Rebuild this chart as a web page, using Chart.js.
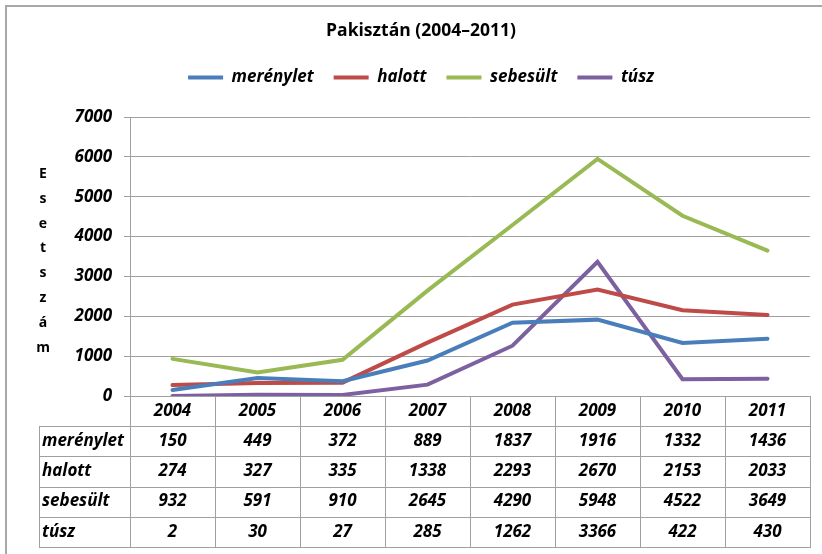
<!DOCTYPE html>
<html><head><meta charset="utf-8">
<script src="https://cdn.jsdelivr.net/npm/chart.js@4.4.1/dist/chart.umd.min.js"></script>
<style>html,body{margin:0;padding:0;background:#fff;} #wrap{width:822px;height:554px;position:relative;}</style>
</head><body><div id="wrap"><canvas id="c"></canvas></div>
<script>
const categories = ['2004','2005','2006','2007','2008','2009','2010','2011'];
const merenylet = [150,449,372,889,1837,1916,1332,1436];
const halott = [274,327,335,1338,2293,2670,2153,2033];
const sebesult = [932,591,910,2645,4290,5948,4522,3649];
const tusz = [2,30,27,285,1262,3366,422,430];
const seriesNames = ['merénylet','halott','sebesült','túsz'];
const seriesColors = ['#4A7EBB','#BE4B48','#98B954','#7D60A0'];
const yTickMin = 0, yTickMax = 7000, yTickStep = 1000;
const chartTitle = 'Pakisztán (2004–2011)';
const yAxisTitle = 'Esetszám';

const FAMILY = "'Open Sans', 'Liberation Sans', sans-serif";
const GRID = '#A0A0A0';
const LEGEND_H = 68;
const ROW_H = 30.25;
const TABLE_LEFT = 39;
const FS = 17;

Chart.defaults.font.family = FAMILY;
Chart.defaults.color = '#000';

const seriesData = [merenylet, halott, sebesult, tusz];

const tablePlugin = {
  id: 'tableAndFrame',
  beforeLayout(chart) {
    if (chart.legend && !chart.legend._patched) {
      const f = chart.legend.fit;
      chart.legend.fit = function () { f.call(this); this.height = LEGEND_H; };
      chart.legend._patched = true;
    }
  },
  beforeDraw(chart) {
    const ctx = chart.ctx;
    ctx.save();
    ctx.strokeStyle = '#A8A8A8';
    ctx.lineWidth = 2;
    ctx.strokeRect(6, 6, chart.width + 20, chart.height + 20);
    ctx.restore();
  },
  afterDraw(chart) {
    const ctx = chart.ctx;
    const x = chart.scales.x;
    const area = chart.chartArea;
    const half = (area.right - area.left) / categories.length / 2;
    const top = area.bottom;
    const y0 = x.bottom;
    const yEnd = y0 + ROW_H * seriesNames.length;
    ctx.save();
    ctx.strokeStyle = GRID;
    ctx.lineWidth = 1;
    ctx.beginPath();
    for (let i = 0; i <= categories.length; i++) {
      const px = Math.round(i < categories.length ? x.getPixelForValue(i) - half : x.getPixelForValue(i - 1) + half) + 0.5;
      ctx.moveTo(px, top);
      ctx.lineTo(px, Math.round(yEnd) + 0.5);
    }
    ctx.moveTo(TABLE_LEFT + 0.5, Math.round(y0) + 0.5);
    ctx.lineTo(TABLE_LEFT + 0.5, Math.round(yEnd) + 0.5);
    for (let r = 0; r <= seriesNames.length; r++) {
      const py = Math.round(y0 + r * ROW_H) + 0.5;
      ctx.moveTo(TABLE_LEFT, py);
      ctx.lineTo(Math.round(area.right) + 1, py);
    }
    ctx.stroke();

    ctx.fillStyle = '#000';
    ctx.font = 'italic bold ' + FS + 'px ' + FAMILY;
    ctx.textBaseline = 'middle';
    for (let r = 0; r < seriesNames.length; r++) {
      const cy = y0 + (r + 0.5) * ROW_H;
      ctx.textAlign = 'left';
      ctx.fillText(seriesNames[r], TABLE_LEFT + 3, cy);
      ctx.textAlign = 'center';
      seriesData[r].forEach((v, i) => ctx.fillText(String(v), x.getPixelForValue(i), cy));
    }

    ctx.font = 'bold 14px ' + FAMILY;
    ctx.textAlign = 'center';
    const letters = Array.from(yAxisTitle);
    letters.forEach((ch, i) => ctx.fillText(ch, 43, 174 + i * 24.8));
    ctx.restore();
  }
};

new Chart(document.getElementById('c'), {
  type: 'line',
  data: {
    labels: categories,
    datasets: seriesNames.map((n, i) => ({
      label: n,
      data: seriesData[i],
      borderColor: seriesColors[i],
      backgroundColor: seriesColors[i],
      borderWidth: 4,
      pointRadius: 0,
      pointHoverRadius: 0,
      fill: false,
      tension: 0,
      borderJoinStyle: 'miter',
      borderCapStyle: 'round'
    }))
  },
  options: {
    responsive: true,
    maintainAspectRatio: false,
    animation: false,
    layout: { padding: { left: 32, right: 12, top: 0, bottom: 128 } },
    plugins: {
      tooltip: { enabled: false },
      title: {
        display: true,
        text: chartTitle,
        font: { size: 17.5, weight: 'bold' },
        color: '#000',
        padding: { top: 20.5, bottom: 7.5 }
      },
      legend: {
        display: true,
        position: 'top',
        labels: {
          boxWidth: 35,
          boxHeight: 4,
          padding: 20,
          font: { size: FS, style: 'italic', weight: 'bold' },
          color: '#000',
          generateLabels(chart) {
            const items = Chart.defaults.plugins.legend.labels.generateLabels(chart);
            items.forEach(it => { it.fillStyle = it.strokeStyle; it.lineWidth = 0; });
            return items;
          }
        }
      }
    },
    scales: {
      x: {
        type: 'category',
        offset: true,
        grid: { display: false, drawTicks: false },
        border: { display: false },
        ticks: { font: { size: FS, style: 'italic', weight: 'bold' }, color: '#000', padding: 4.8, maxRotation: 0, autoSkip: false },
        afterFit(s) { s.height = 30; }
      },
      y: {
        min: yTickMin,
        max: yTickMax,
        grid: { color: GRID, lineWidth: 1, tickLength: 6, drawTicks: true },
        border: { display: true, color: GRID, width: 1 },
        ticks: { stepSize: yTickStep, font: { size: FS, style: 'italic', weight: 'bold' }, color: '#000', padding: 12, callback: v => String(v) },
        afterFit(s) { s.width = 98; }
      }
    }
  },
  plugins: [tablePlugin]
});
</script>
</body></html>
